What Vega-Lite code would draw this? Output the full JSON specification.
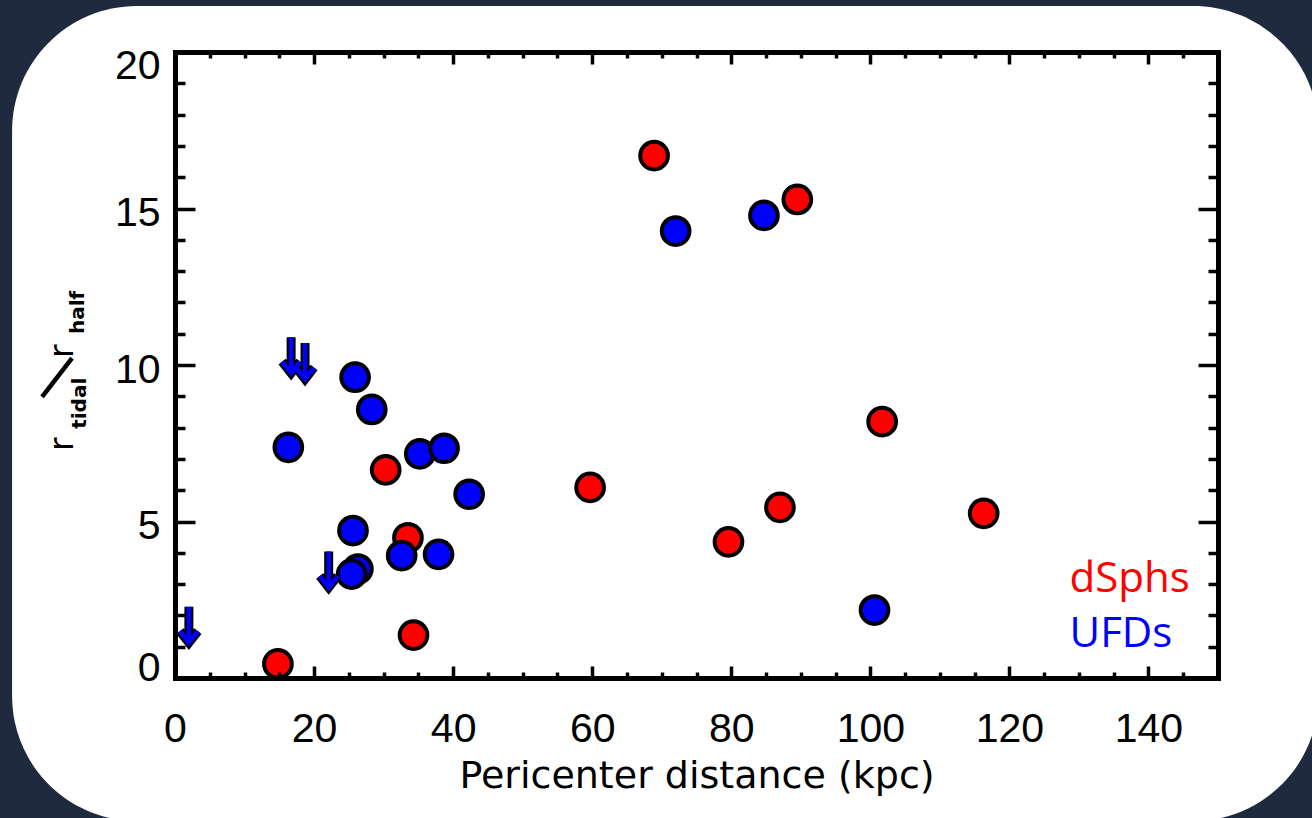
{
  "$schema": "https://vega.github.io/schema/vega-lite/v6.json",
  "width": 1043,
  "height": 626,
  "autosize": {"type": "none"},
  "padding": {"left": 175, "top": 52, "right": 94, "bottom": 140},
  "background": "#1f2a3e",
  "config": {"view": {"stroke": null}, "legend": {"disable": true}},
  "datasets": {
    "galaxies": [
      {"peri": 14.8, "ratio": 0.45, "type": "dSphs", "limit": false},
      {"peri": 30.3, "ratio": 6.65, "type": "dSphs", "limit": false},
      {"peri": 33.5, "ratio": 4.48, "type": "dSphs", "limit": false},
      {"peri": 34.3, "ratio": 1.37, "type": "dSphs", "limit": false},
      {"peri": 59.7, "ratio": 6.09, "type": "dSphs", "limit": false},
      {"peri": 68.9, "ratio": 16.69, "type": "dSphs", "limit": false},
      {"peri": 79.6, "ratio": 4.35, "type": "dSphs", "limit": false},
      {"peri": 87.0, "ratio": 5.45, "type": "dSphs", "limit": false},
      {"peri": 89.5, "ratio": 15.29, "type": "dSphs", "limit": false},
      {"peri": 101.7, "ratio": 8.19, "type": "dSphs", "limit": false},
      {"peri": 116.3, "ratio": 5.26, "type": "dSphs", "limit": false},
      {"peri": 16.3, "ratio": 7.37, "type": "UFDs", "limit": false},
      {"peri": 25.9, "ratio": 9.61, "type": "UFDs", "limit": false},
      {"peri": 28.3, "ratio": 8.58, "type": "UFDs", "limit": false},
      {"peri": 35.2, "ratio": 7.16, "type": "UFDs", "limit": false},
      {"peri": 38.7, "ratio": 7.34, "type": "UFDs", "limit": false},
      {"peri": 42.3, "ratio": 5.87, "type": "UFDs", "limit": false},
      {"peri": 25.6, "ratio": 4.71, "type": "UFDs", "limit": false},
      {"peri": 32.6, "ratio": 3.91, "type": "UFDs", "limit": false},
      {"peri": 37.9, "ratio": 3.95, "type": "UFDs", "limit": false},
      {"peri": 26.3, "ratio": 3.48, "type": "UFDs", "limit": false},
      {"peri": 25.4, "ratio": 3.32, "type": "UFDs", "limit": false},
      {"peri": 72.0, "ratio": 14.28, "type": "UFDs", "limit": false},
      {"peri": 84.7, "ratio": 14.78, "type": "UFDs", "limit": false},
      {"peri": 100.6, "ratio": 2.17, "type": "UFDs", "limit": false},
      {"peri": 16.7, "ratio": 10.89, "type": "UFDs", "limit": true},
      {"peri": 18.7, "ratio": 10.70, "type": "UFDs", "limit": true},
      {"peri": 22.1, "ratio": 4.04, "type": "UFDs", "limit": true},
      {"peri": 2.0, "ratio": 2.28, "type": "UFDs", "limit": true}
    ]
  },
  "resolve": {"axis": {"x": "independent", "y": "independent"}},
  "layer": [
    {
      "data": {"values": [{}]},
      "mark": {"type": "rect", "fill": "white", "cornerRadius": 125},
      "encoding": {
        "x": {"datum": -23.43, "type": "quantitative", "scale": {"domain": [0, 150], "nice": false, "zero": false}, "axis": null},
        "x2": {"datum": 164.44},
        "y": {"datum": 21.47, "type": "quantitative", "scale": {"domain": [0, 20], "nice": false, "zero": false}, "axis": null},
        "y2": {"datum": -4.57}
      }
    },
    {
      "data": {"name": "galaxies"},
      "transform": [{"filter": "!datum.limit"}],
      "mark": {"type": "circle", "size": 767, "stroke": "black", "strokeWidth": 4, "opacity": 1},
      "encoding": {
        "x": {
          "field": "peri", "type": "quantitative",
          "axis": {
            "orient": "bottom", "zindex": 1,
            "values": [0, 5, 10, 15, 20, 25, 30, 35, 40, 45, 50, 55, 60, 65, 70, 75, 80, 85, 90, 95, 100, 105, 110, 115, 120, 125, 130, 135, 140, 145, 150],
            "grid": false,
            "domain": true, "domainColor": "black", "domainWidth": 5, "domainCap": "square",
            "ticks": true, "tickColor": "black", "tickWidth": 3.5,
            "tickSize": {"condition": {"test": "datum.value % 20 === 0", "value": -12}, "value": -6},
            "labelExpr": "datum.value % 20 === 0 ? datum.label : ''",
            "labelFont": "Liberation Sans", "labelFontSize": 41, "labelColor": "black",
            "labelPadding": 43, "labelOverlap": false, "labelFlush": false,
            "title": "Pericenter distance (kpc)",
            "titleFont": "DejaVu Sans", "titleFontSize": 38, "titleFontWeight": "normal", "titleColor": "black",
            "titleBaseline": "alphabetic", "titleY": 109
          }
        },
        "y": {
          "field": "ratio", "type": "quantitative",
          "axis": {
            "orient": "left", "zindex": 1,
            "values": [0, 1, 2, 3, 4, 5, 6, 7, 8, 9, 10, 11, 12, 13, 14, 15, 16, 17, 18, 19, 20],
            "grid": false,
            "domain": true, "domainColor": "black", "domainWidth": 5, "domainCap": "square",
            "ticks": true, "tickColor": "black", "tickWidth": 3.5,
            "tickSize": {"condition": {"test": "datum.value % 5 === 0", "value": -20}, "value": -10},
            "labelExpr": "datum.value % 5 === 0 ? datum.label : ''",
            "labelFont": "Liberation Sans", "labelFontSize": 41, "labelColor": "black",
            "labelPadding": 35, "labelOverlap": false,
            "labelFlush": true, "labelFlushOffset": 6,
            "labelOffset": {"condition": {"test": "datum.value === 20", "value": 0}, "value": 5},
            "title": null
          }
        },
        "color": {"field": "type", "type": "nominal", "scale": {"domain": ["dSphs", "UFDs"], "range": ["#ff0000", "#0000ff"]}}
      }
    },
    {
      "data": {"name": "galaxies"},
      "transform": [{"filter": "datum.limit"}],
      "mark": {"type": "point", "shape": "M0,0L0,1.9M-0.5,1.36L0,2L0.5,1.36", "size": 1296, "filled": false, "stroke": "black", "strokeWidth": 9, "strokeJoin": "miter", "strokeCap": "butt", "opacity": 1},
      "encoding": {
        "x": {
          "field": "peri", "type": "quantitative",
          "axis": {
            "orient": "top", "zindex": 1,
            "values": [0, 5, 10, 15, 20, 25, 30, 35, 40, 45, 50, 55, 60, 65, 70, 75, 80, 85, 90, 95, 100, 105, 110, 115, 120, 125, 130, 135, 140, 145, 150],
            "grid": false, "labels": false, "title": null,
            "domain": true, "domainColor": "black", "domainWidth": 5, "domainCap": "square",
            "ticks": true, "tickColor": "black", "tickWidth": 3.5,
            "tickSize": {"condition": {"test": "datum.value % 20 === 0", "value": -12}, "value": -6}
          }
        },
        "y": {
          "field": "ratio", "type": "quantitative",
          "axis": {
            "orient": "right", "zindex": 1,
            "values": [0, 1, 2, 3, 4, 5, 6, 7, 8, 9, 10, 11, 12, 13, 14, 15, 16, 17, 18, 19, 20],
            "grid": false, "labels": false, "title": null,
            "domain": true, "domainColor": "black", "domainWidth": 5, "domainCap": "square",
            "ticks": true, "tickColor": "black", "tickWidth": 3.5,
            "tickSize": {"condition": {"test": "datum.value % 5 === 0", "value": -20}, "value": -10}
          }
        }
      }
    },
    {
      "data": {"name": "galaxies"},
      "transform": [{"filter": "datum.limit"}],
      "mark": {"type": "point", "shape": "M0,0L0,1.9M-0.5,1.36L0,2L0.5,1.36", "size": 1296, "filled": false, "stroke": "#0000ff", "strokeWidth": 4.5, "strokeJoin": "miter", "strokeCap": "butt", "opacity": 1},
      "encoding": {
        "x": {"field": "peri", "type": "quantitative", "axis": null},
        "y": {"field": "ratio", "type": "quantitative", "axis": null}
      }
    },
    {
      "data": {"values": [{}]},
      "mark": {"type": "text", "font": "Open Sans", "fontSize": 42, "align": "left", "baseline": "alphabetic"},
      "encoding": {
        "x": {"datum": 128.65, "type": "quantitative", "axis": null},
        "y": {"datum": 2.75, "type": "quantitative", "axis": null},
        "text": {"value": "dSphs"},
        "color": {"datum": "dSphs", "type": "nominal"}
      }
    },
    {
      "data": {"values": [{}]},
      "mark": {"type": "text", "font": "Open Sans", "fontSize": 42, "align": "left", "baseline": "alphabetic"},
      "encoding": {
        "x": {"datum": 128.65, "type": "quantitative", "axis": null},
        "y": {"datum": 0.99, "type": "quantitative", "axis": null},
        "text": {"value": "UFDs"},
        "color": {"datum": "UFDs", "type": "nominal"}
      }
    },
    {
      "data": {"values": [{}]},
      "mark": {"type": "text", "font": "DejaVu Sans", "fontSize": 33, "angle": 270, "align": "left", "baseline": "alphabetic", "color": "black"},
      "encoding": {
        "x": {"datum": -14.66, "type": "quantitative", "axis": null},
        "y": {"datum": 7.25, "type": "quantitative", "axis": null},
        "text": {"value": "r"}
      }
    },
    {
      "data": {"values": [{}]},
      "mark": {"type": "text", "font": "DejaVu Sans", "fontSize": 20, "fontWeight": "bold", "angle": 270, "align": "left", "baseline": "alphabetic", "color": "black"},
      "encoding": {
        "x": {"datum": -12.79, "type": "quantitative", "axis": null},
        "y": {"datum": 7.96, "type": "quantitative", "axis": null},
        "text": {"value": "tidal"}
      }
    },
    {
      "data": {"values": [{}]},
      "mark": {"type": "rule", "color": "black", "strokeWidth": 4.5, "strokeCap": "butt"},
      "encoding": {
        "x": {"datum": -19.12, "type": "quantitative", "axis": null},
        "y": {"datum": 8.98, "type": "quantitative", "axis": null},
        "x2": {"datum": -14.81},
        "y2": {"datum": 10.22}
      }
    },
    {
      "data": {"values": [{}]},
      "mark": {"type": "text", "font": "DejaVu Sans", "fontSize": 33, "angle": 270, "align": "left", "baseline": "alphabetic", "color": "black"},
      "encoding": {
        "x": {"datum": -14.66, "type": "quantitative", "axis": null},
        "y": {"datum": 10.22, "type": "quantitative", "axis": null},
        "text": {"value": "r"}
      }
    },
    {
      "data": {"values": [{}]},
      "mark": {"type": "text", "font": "DejaVu Sans", "fontSize": 20, "fontWeight": "bold", "angle": 270, "align": "left", "baseline": "alphabetic", "color": "black"},
      "encoding": {
        "x": {"datum": -13.08, "type": "quantitative", "axis": null},
        "y": {"datum": 10.99, "type": "quantitative", "axis": null},
        "text": {"value": "half"}
      }
    }
  ]
}
